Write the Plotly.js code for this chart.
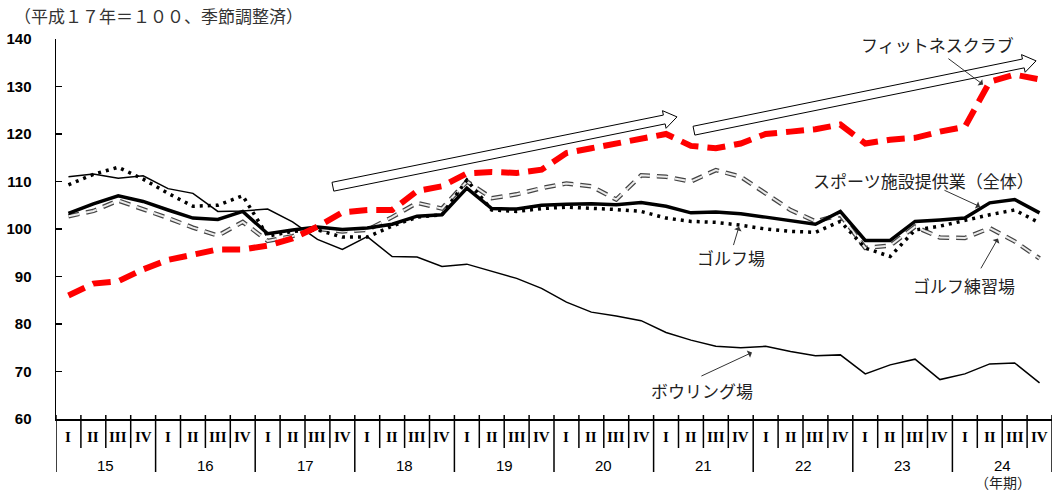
<!DOCTYPE html>
<html>
<head>
<meta charset="utf-8">
<script src="https://cdn.plot.ly/plotly-3.0.1.min.js"></script>
<style>html,body{margin:0;padding:0;background:#fff;}</style>
</head>
<body>
<div id="chart" style="width:1059px;height:491px;"></div>
<script>
// Sports facility index by quarter, Heisei 15–24 (Heisei 17 = 100, seasonally adjusted)
const years = ['15', '16', '17', '18', '19', '20', '21', '22', '23', '24'];
const quarters = ['I', 'II', 'III', 'IV'];

const fitnessClub = [
  86, 88.5, 89, 91.5,
  93.5, 94.7, 95.7, 95.7,
  96.5, 98, 100.5, 103.5,
  104, 104, 108, 109,
  111.7, 112, 111.8, 112.5,
  116, 117, 118, 119,
  120, 117.5, 117, 118,
  120, 120.5, 121, 122,
  118, 118.8, 119.2, 120.5,
  121.5, 131, 132.5, 131.5
];
const sportsTotal = [
  103.3, 105.3, 107, 105.8,
  104, 102.3, 102, 103.7,
  99, 99.8, 100.4, 99.9,
  100.2, 101, 102.7, 103,
  108.6, 104.3, 104.2, 105,
  105.2, 105.3, 105.1, 105.6,
  104.8, 103.4, 103.6, 103.2,
  102.5, 101.8, 101, 103.7,
  97.6, 97.6, 101.6, 101.9,
  102.3, 105.5, 106.2, 103.4
];
const golfCourse = [
  109.3, 111.5, 113, 110.5,
  107.5, 104.8, 105, 107,
  98.5, 99.5, 99.8, 98.3,
  98.3, 100.6, 102.5, 103,
  110.3, 104, 103.7, 104.3,
  104.6, 104.4, 104.1, 103.7,
  102.3, 101.6, 101.4, 100.8,
  100, 99.5, 99.3, 101.6,
  96, 94.2, 99.8, 100.6,
  101.8, 103, 104, 101.3
];
const golfRange = [
  102.7, 103.8, 106, 104.2,
  102.3, 100.3, 98.6, 101.5,
  97.5, 98.5, 100, 99.5,
  99.8, 102.5, 105.5, 104.3,
  110, 106.5, 107.3, 108.6,
  109.6, 109, 106.2, 111.3,
  111, 110, 112.4, 111,
  107.5, 104, 101.6, 103,
  96, 96.5, 100.5, 98.2,
  98.1, 100.2, 97.4, 93.8
];
const bowling = [
  111, 111.6, 110.7, 111.2,
  108.5, 107.5, 103.7, 103.8,
  104.2, 101.5, 97.8, 95.7,
  98.4, 94.2, 94.1, 92.1,
  92.6, 91.1, 89.6, 87.5,
  84.6, 82.5, 81.7, 80.7,
  78.2, 76.6, 75.3, 75,
  75.3, 74.2, 73.3, 73.5,
  69.5, 71.4, 72.6, 68.3,
  69.5, 71.6, 71.8, 67.6
];

const titleText = '（平成１７年＝１００、季節調整済）';
const periodUnit = '（年期）';

// one x position per quarter
const xIdx = fitnessClub.map((_, i) => i);

const JP = '"Noto Sans CJK JP", "Noto Sans", sans-serif';
const traces = [
  {x: xIdx, y: bowling, mode: 'lines', line: {color: '#000', width: 1.5}},
  {x: xIdx, y: golfRange, mode: 'lines', line: {color: '#444', width: 4.5, dash: '11px,7px'}},
  {x: xIdx, y: golfRange, mode: 'lines', line: {color: '#ececec', width: 2, dash: '11px,7px'}},
  {x: xIdx, y: sportsTotal, mode: 'lines', line: {color: '#000', width: 3.5}},
  {x: xIdx, y: golfCourse, mode: 'lines', line: {color: '#000', width: 3.5, dash: '3px,5px'}},
  {x: xIdx, y: fitnessClub, mode: 'lines', line: {color: '#ff0000', width: 6, dash: '18px,9px'}}
];

// plot area geometry (pixels per data unit) for the block arrows
const plotW = 1059 - 56 - 7, plotH = 491 - 39 - 72;
const PX_X = plotW / 40, PX_Y = plotH / 80;
function paperY(px) { return (plotH + 39 - px) / plotH; }

function blockArrow(x0, y0, x1, y1) {
  const dx = (x1 - x0) * PX_X, dy = -(y1 - y0) * PX_Y;
  const len = Math.hypot(dx, dy), ux = dx / len, uy = dy / len, nx = -uy, ny = ux;
  const bw = 4.5, hw = 9, hl = 13;
  const pts = [[0, bw], [len - hl, bw], [len - hl, hw], [len, 0], [len - hl, -hw], [len - hl, -bw], [0, -bw]];
  const d = pts.map(([a, b], i) => {
    const sx = a * ux + b * nx, sy = a * uy + b * ny;
    return (i ? 'L' : 'M') + (x0 + sx / PX_X).toFixed(4) + ',' + (y0 - sy / PX_Y).toFixed(4);
  }).join(' ') + ' Z';
  return {type: 'path', xref: 'x', yref: 'y', path: d, fillcolor: '#fff', line: {color: '#000', width: 1}, layer: 'above'};
}

const shapes = [];
// quarter and year separators below the axis
for (let k = 0; k <= years.length * 4; k++) {
  const isYear = k % 4 === 0;
  shapes.push({
    type: 'line', xref: 'x', yref: 'paper',
    x0: k - 0.5, x1: k - 0.5,
    y0: 4 / plotH, y1: isYear ? paperY(472) : paperY(448),
    line: {color: '#000', width: 1.5}
  });
}
shapes.push(blockArrow(10.62, 108.9, 24.44, 123.6));
shapes.push(blockArrow(25.12, 120.7, 38.86, 135.4));

const annotations = [];
years.forEach((yr, yi) => {
  quarters.forEach((q, qi) => {
    annotations.push({
      x: yi * 4 + qi, xref: 'x', y: paperY(437), yref: 'paper', text: q, showarrow: false,
      xanchor: 'center', yanchor: 'middle',
      font: {family: '"Liberation Serif", "DejaVu Serif", serif', size: 15, color: '#000', weight: 'bold'}
    });
  });
  annotations.push({
    x: yi * 4 + 1.5, xref: 'x', y: paperY(465), yref: 'paper', text: yr, showarrow: false,
    xanchor: 'center', yanchor: 'middle',
    font: {family: '"Liberation Sans", Arial, sans-serif', size: 15, color: '#000'}
  });
});
annotations.push({
  x: 37.53, xref: 'x', y: paperY(482), yref: 'paper', text: periodUnit, showarrow: false,
  xanchor: 'center', yanchor: 'middle', font: {family: JP, size: 14, color: '#222'}
});
annotations.push({
  x: (12 - 56) / plotW, xref: 'paper', y: paperY(16), yref: 'paper', text: titleText, showarrow: false,
  xanchor: 'left', yanchor: 'middle', font: {family: JP, size: 17, color: '#333'}
});

// series labels with pointer arrows
const labels = [
  {text: 'フィットネスクラブ', tx: 34.92, ty: 138.8, hx: 36.73, hy: 130.4, ax: 35.28, ay: 136.1},
  {text: 'スポーツ施設提供業（全体）', tx: 34.32, ty: 110.2, hx: 36.61, hy: 104.7, ax: 35.12, ay: 108.3},
  {text: 'ゴルフ場', tx: 26.61, ty: 94.0, hx: 26.93, hy: 100.5, ax: 26.69, ay: 96.3},
  {text: 'ゴルフ練習場', tx: 35.97, ty: 88.1, hx: 37.33, hy: 98.0, ax: 36.61, ay: 91.4},
  {text: 'ボウリング場', tx: 25.44, ty: 66.0, hx: 27.45, hy: 74.0, ax: 25.36, ay: 68.9}
];
labels.forEach(l => {
  annotations.push({
    x: l.tx, y: l.ty, xref: 'x', yref: 'y', text: l.text, showarrow: false,
    xanchor: 'center', yanchor: 'middle', font: {family: JP, size: 17, color: '#222'}
  });
  annotations.push({
    x: l.hx, y: l.hy, xref: 'x', yref: 'y', ax: l.ax, ay: l.ay, axref: 'x', ayref: 'y',
    text: '', showarrow: true, arrowhead: 1, arrowsize: 1.3, arrowwidth: 1, arrowcolor: '#333'
  });
});

const layout = {
  width: 1059, height: 491,
  margin: {l: 56, r: 7, t: 39, b: 72, pad: 0},
  paper_bgcolor: '#fff', plot_bgcolor: '#fff',
  showlegend: false,
  xaxis: {
    range: [-0.5, 39.5], showticklabels: false, ticks: '', showgrid: false, zeroline: false,
    showline: true, linecolor: '#000', linewidth: 1.5, fixedrange: true
  },
  yaxis: {
    range: [60, 140], tickvals: [60, 70, 80, 90, 100, 110, 120, 130, 140],
    ticks: 'inside', ticklen: 6, tickwidth: 1.5, tickcolor: '#000',
    showline: true, linecolor: '#000', linewidth: 1.5, showgrid: false, zeroline: false,
    ticklabelstandoff: 20,
    tickfont: {family: '"Liberation Sans", Arial, sans-serif', size: 15, color: '#000', weight: 'bold'}
  },
  shapes: shapes,
  annotations: annotations
};

Plotly.newPlot('chart', traces, layout, {staticPlot: true});
</script>
</body>
</html>
